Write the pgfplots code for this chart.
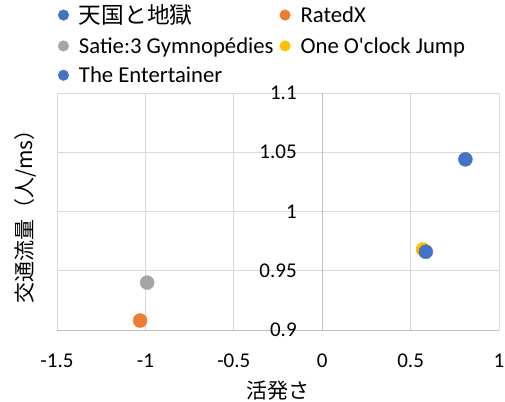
\documentclass[border=0pt]{standalone}
\usepackage{pgfplots}
\pgfplotsset{compat=1.18}
\usepackage{fontspec}
\setmainfont{Carlito}
\newfontfamily\cjk{Noto Sans CJK JP}
\definecolor{c1}{HTML}{4472C4}
\definecolor{c2}{HTML}{ED7D31}
\definecolor{c3}{HTML}{A5A5A5}
\definecolor{c4}{HTML}{FFC000}
\definecolor{c5}{HTML}{4472C4}
\definecolor{gridc}{HTML}{D9D9D9}
\definecolor{axc}{HTML}{BFBFBF}
\begin{document}
\begin{tikzpicture}[font=\fontsize{21}{25}\selectfont]
\useasboundingbox (0,0) rectangle (505pt,401pt);
\begin{axis}[
  at={(57pt,71pt)}, anchor=south west,
  scale only axis, width=442pt, height=237pt,
  xmin=-1.5, xmax=1, ymin=0.9, ymax=1.1,
  xtick={-1.5,-1,-0.5,0,0.5,1},
  xticklabels={-1.5,-1,-0.5,0,0.5,1},
  ytick={0.9,0.95,1,1.05,1.1},
  yticklabels={0.9,0.95,1,1.05,1.1},
  hide obscured x ticks=false, hide obscured y ticks=false,
  grid=major, grid style={draw=gridc, line width=0.8pt},
  axis x line*=bottom, axis y line*=center,
  axis line style={draw=axc, line width=0.8pt},
  major tick length=0pt,
  xticklabel style={yshift=-20pt},
  yticklabel style={xshift=-22pt},
  xlabel={\cjk 活発さ},
  ylabel={\cjk 交通流量（人/ms）},
  every axis x label/.style={at={(axis description cs:0.5,-0.257)}, anchor=center},
  every axis y label/.style={at={(axis description cs:-0.0724,0.5)}, anchor=center, rotate=90},
  legend columns=2,
  legend cell align=left,
  legend image code/.code={\fill[#1] (0pt,0pt) circle (5.3pt);},
  legend style={draw=none, fill=none, at={(axis description cs:-0.005,1.39)}, anchor=north west,
    row sep=8pt,
    /tikz/every odd column/.append style={column sep=8pt},
    /tikz/every even column/.append style={column sep=4pt},
    font=\fontsize{22.7}{26}\selectfont},
]
\addplot[only marks, mark=*, mark size=7pt, color=c1] coordinates {(0.81,1.044)};
\addlegendentry{\cjk 天国と地獄}
\addplot[only marks, mark=*, mark size=7pt, color=c2] coordinates {(-1.03,0.908)};
\addlegendentry{RatedX}
\addplot[only marks, mark=*, mark size=7pt, color=c3] coordinates {(-0.99,0.94)};
\addlegendentry{Satie:3 Gymnopédies}
\addplot[only marks, mark=*, mark size=7pt, color=c4] coordinates {(0.57,0.968)};
\addlegendentry{One O\textquotesingle clock Jump}
\addplot[only marks, mark=*, mark size=7pt, color=c5] coordinates {(0.586,0.966)};
\addlegendentry{The Entertainer}
\end{axis}
\end{tikzpicture}
\end{document}
